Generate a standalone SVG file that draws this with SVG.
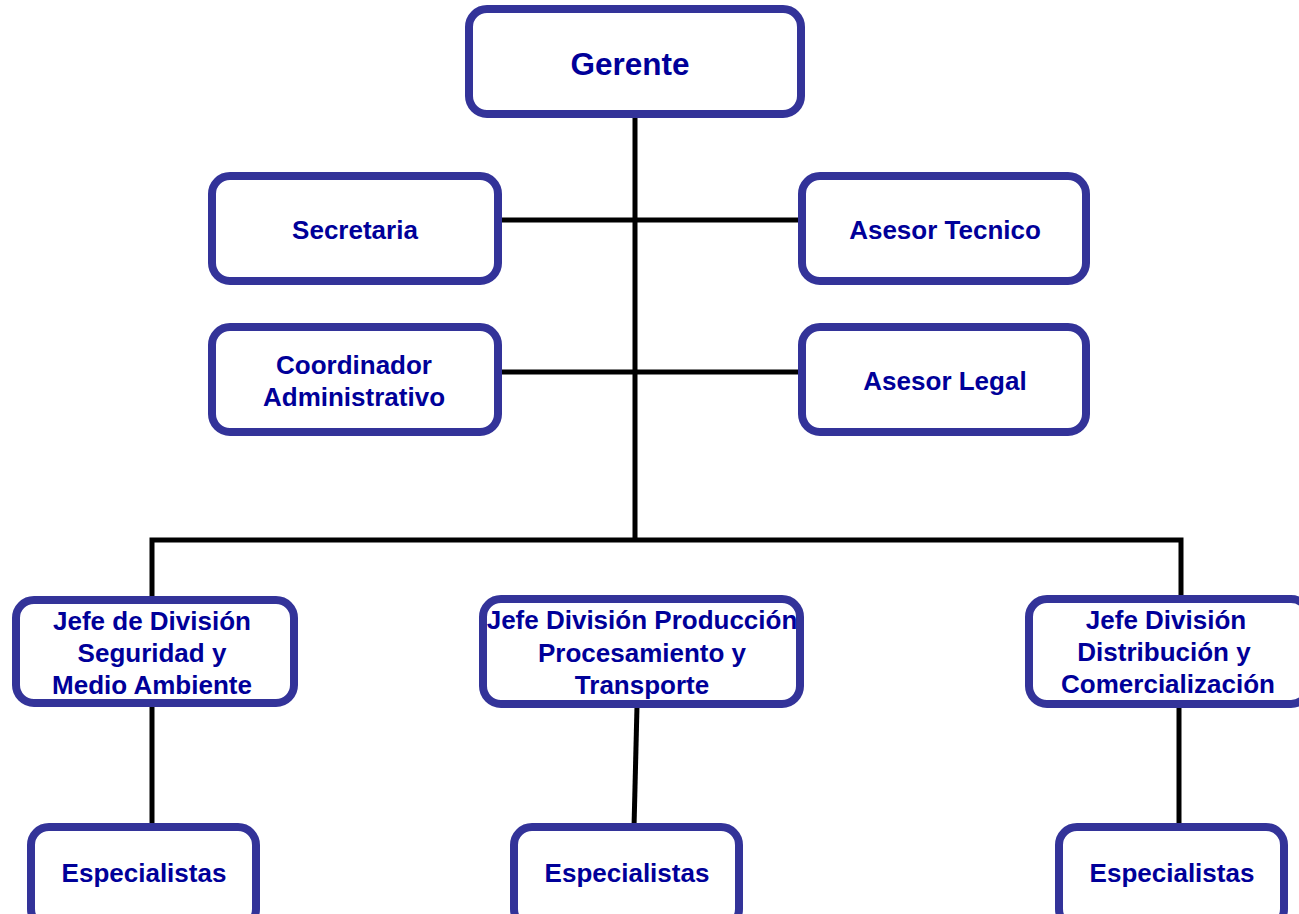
<svg xmlns="http://www.w3.org/2000/svg" width="1299" height="914" viewBox="0 0 1299 914">
<style>
.box{fill:#fff;stroke:#333399;stroke-width:8}
.t{font-family:"Liberation Sans",Arial,sans-serif;font-weight:bold;font-size:26px;fill:#000099;text-anchor:middle}
.big{font-size:31.5px}
.c{stroke:#000;stroke-width:5;fill:none}
</style>
<rect width="1299" height="914" fill="#fff"/>
<g id="connectors">
<line class="c" x1="635" y1="116" x2="635" y2="542"/>
<line class="c" x1="500" y1="220" x2="800" y2="220"/>
<line class="c" x1="500" y1="372" x2="800" y2="372"/>
<polyline class="c" points="152,600 152,540 1181,540 1181,600"/>
<line class="c" x1="152" y1="705" x2="152" y2="828"/>
<line class="c" x1="637" y1="706" x2="634" y2="828"/>
<line class="c" x1="1179" y1="706" x2="1179" y2="828"/>
</g>
<g id="gerente"><rect class="box" x="469" y="9" width="332" height="105" rx="18"/><text class="t big" x="630" y="75">Gerente</text></g>
<g id="secretaria"><rect class="box" x="212" y="176" width="286" height="105" rx="18"/><text class="t" x="355" y="239">Secretaria</text></g>
<g id="asesor-tecnico"><rect class="box" x="802" y="176" width="284" height="105" rx="18"/><text class="t" x="945" y="239">Asesor Tecnico</text></g>
<g id="coordinador"><rect class="box" x="212" y="327" width="286" height="105" rx="18"/><text class="t" x="354" y="374">Coordinador</text><text class="t" x="354" y="406">Administrativo</text></g>
<g id="asesor-legal"><rect class="box" x="802" y="327" width="284" height="105" rx="18"/><text class="t" x="945" y="390">Asesor Legal</text></g>
<g id="jefe-seguridad"><rect class="box" x="16" y="600" width="278" height="103" rx="18"/><text class="t" x="152" y="630">Jefe de División</text><text class="t" x="152" y="662">Seguridad y</text><text class="t" x="152" y="694">Medio Ambiente</text></g>
<g id="jefe-produccion"><rect class="box" x="483" y="599" width="317" height="105" rx="18"/><text class="t" x="642" y="629">Jefe División Producción</text><text class="t" x="642" y="662">Procesamiento y</text><text class="t" x="642" y="694">Transporte</text></g>
<g id="jefe-distribucion"><rect class="box" x="1029" y="599" width="280" height="105" rx="18"/><text class="t" x="1166" y="629">Jefe División</text><text class="t" x="1164" y="661">Distribución y</text><text class="t" x="1168" y="693">Comercialización</text></g>
<g id="esp1"><rect class="box" x="31" y="827" width="225" height="100" rx="18"/><text class="t" x="144" y="882">Especialistas</text></g>
<g id="esp2"><rect class="box" x="514" y="827" width="225" height="100" rx="18"/><text class="t" x="627" y="882">Especialistas</text></g>
<g id="esp3"><rect class="box" x="1059" y="827" width="225" height="100" rx="18"/><text class="t" x="1172" y="882">Especialistas</text></g>
</svg>
